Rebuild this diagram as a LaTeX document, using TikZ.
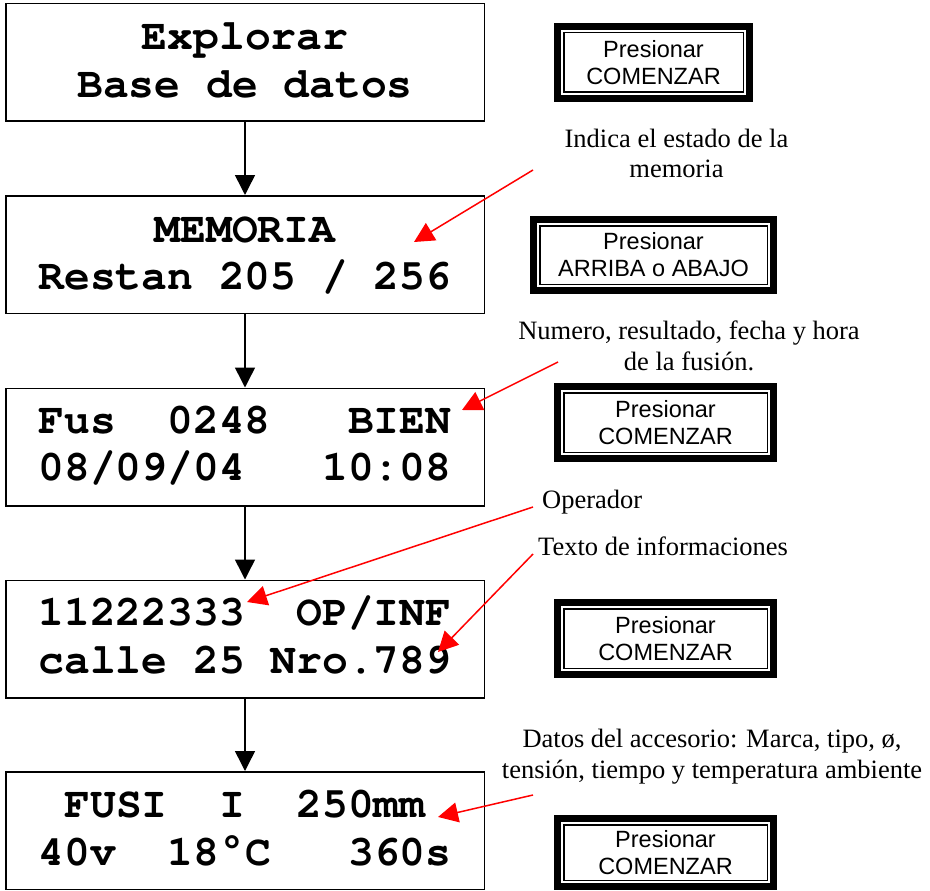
\documentclass[tikz,border=0pt]{standalone}
\usepackage{fontspec}
\usepackage[T1,TU]{fontenc}
\setmainfont{Liberation Serif}
\newfontfamily\btnfont{Liberation Sans}
\newfontfamily\degfont{Liberation Mono}
\newcommand\lcdfont{\fontencoding{T1}\fontfamily{pcr}\fontseries{b}\selectfont}
\newcommand\lcddeg{{\degfont\bfseries °}}
\usetikzlibrary{arrows.meta}
\begin{document}
\begin{tikzpicture}[x=1pt,y=-1pt,
  lcdbox/.style={draw, line width=1.5pt, minimum width=478.5pt, minimum height=117.5pt, inner sep=0pt},
  lcdtxt/.style={inner sep=0pt, anchor=base, font=\lcdfont\fontsize{43pt}{48pt}\selectfont},
  btn/.style={draw, line width=7pt, inner sep=0pt, align=center,
    font=\btnfont\fontsize{23.5pt}{27pt}\selectfont,
    path picture={\draw[line width=1.5pt] ([shift={(6.25pt,-6.25pt)}]path picture bounding box.north west) rectangle ([shift={(-6.25pt,6.25pt)}]path picture bounding box.south east);}},
  note/.style={inner sep=0pt, anchor=base, font=\fontsize{26.5pt}{30pt}\selectfont},
  flow/.style={draw=black, line width=1.5pt, -{Triangle[length=20pt,width=20pt]}},
  pointer/.style={draw=red, line width=1.5pt, -{Triangle[length=20pt,width=20pt]}, fill=red}
]
\useasboundingbox[fill=white] (0,0) rectangle (930,891);

% LCD boxes
\node[lcdbox] (b1) at (245,62.5) {};
\node[lcdbox] (b2) at (245,254.5) {};
\node[lcdbox] (b3) at (245,447) {};
\node[lcdbox] (b4) at (245,639) {};
\node[lcdbox] (b5) at (245,830.5) {};

\node[lcdtxt] (b1l1) at (245,50) {Explorar};
\node[lcdtxt] (b1l2) at (245,98) {Base~de~datos};
\node[lcdtxt] (b2l1) at (245,242) {MEMORIA};
\node[lcdtxt] (b2l2) at (245,289) {Restan~205~/~256};
\node[lcdtxt] (b3l1) at (245,433) {Fus~~0248~~~BIEN};
\node[lcdtxt] (b3l2) at (245,480) {08/09/04~~~10:08};
\node[lcdtxt] (b4l1) at (245,625) {11222333~~OP/INF};
\node[lcdtxt] (b4l2) at (245,673) {calle~25~Nro.789};
\node[lcdtxt] (b5l1) at (245,817) {FUSI~~I~~250mm};
\node[lcdtxt] (b5l2) at (245,865) {40v~~18\lcddeg C~~~360s};

\draw[flow] (b1) -- (b2);
\draw[flow] (b2) -- (b3);
\draw[flow] (b3) -- (b4);
\draw[flow] (b4) -- (b5);

% Buttons
\node[btn, minimum width=192pt, minimum height=72pt] (k1) at (653.5,62.5) {Presionar\\COMENZAR};
\node[btn, minimum width=240pt, minimum height=71pt] (k2) at (653.5,255) {Presionar\\ARRIBA o ABAJO};
\node[btn, minimum width=216pt, minimum height=72pt] (k3) at (665.5,422.5) {Presionar\\COMENZAR};
\node[btn, minimum width=216pt, minimum height=72pt] (k4) at (665.5,638.5) {Presionar\\COMENZAR};
\node[btn, minimum width=216pt, minimum height=68pt] (k5) at (665.5,852.5) {Presionar\\COMENZAR};

% Notes
\node[note] (n1a) at (676.5,147) {Indica el estado de la};
\node[note] (n1b) at (676.5,177) {memoria};
\node[note] (n2a) at (689,339) {Numero, resultado, fecha y hora};
\node[note] (n2b) at (689,370) {de la fusión.};
\node[note, anchor=base west] (n3) at (542,508) {Operador};
\node[note, anchor=base west] (n4) at (538,555) {Texto de informaciones};
\node[note] (n5a) at (712,747) {Datos del accesorio: Marca, tipo, ø,};
\node[note] (n5b) at (712,778) {tensión, tiempo y temperatura ambiente};

% Pointers
\coordinate (p1s) at (533,170); \coordinate (p1e) at (414,242);
\coordinate (p2s) at (558,362); \coordinate (p2e) at (462,410);
\coordinate (p3s) at (533,507); \coordinate (p3e) at (247,602);
\coordinate (p4s) at (533,554); \coordinate (p4e) at (438,652);
\coordinate (p5s) at (533,795); \coordinate (p5e) at (438,817);
\draw[pointer] (p1s) -- (p1e);
\draw[pointer] (p2s) -- (p2e);
\draw[pointer] (p3s) -- (p3e);
\draw[pointer] (p4s) -- (p4e);
\draw[pointer] (p5s) -- (p5e);
\end{tikzpicture}
\end{document}
